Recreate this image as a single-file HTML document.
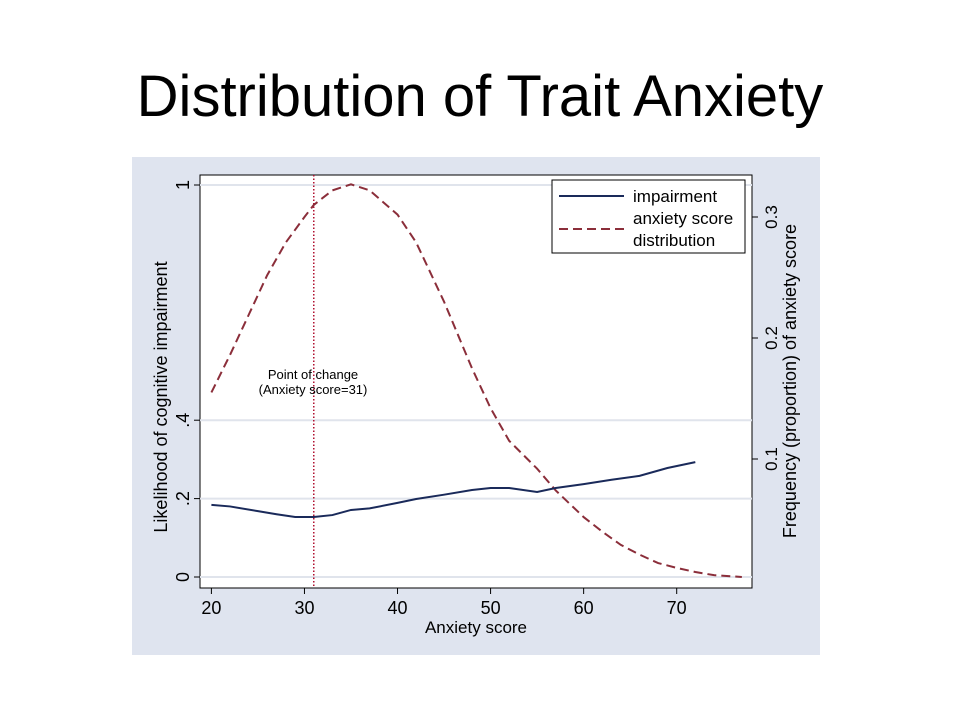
<!DOCTYPE html>
<html><head><meta charset="utf-8"><style>
body{margin:0;background:#fff;width:960px;height:720px;overflow:hidden;font-family:"Liberation Sans",sans-serif}
</style></head><body>
<svg width="960" height="720" font-family="Liberation Sans, sans-serif">
<text x="480" y="116" text-anchor="middle" font-size="58">Distribution of Trait Anxiety</text>
<rect x="132" y="157" width="688" height="498" fill="#dfe4ef"/>
<rect x="200" y="175" width="552" height="413" fill="#fff" stroke="#000" stroke-width="1"/>
<g id="grid"></g><g id="axes"></g><g id="series"></g>
<text x="313" y="379" text-anchor="middle" font-size="13">Point of change</text>
<text x="313" y="394" text-anchor="middle" font-size="13">(Anxiety score=31)</text>
<g>
<rect x="552" y="180" width="193" height="73" fill="#fff" stroke="#000"/>
<line x1="559" y1="196" x2="624" y2="196" stroke="#1a2a5a" stroke-width="2"/>
<text x="633" y="202" font-size="17">impairment</text>
<line x1="559" y1="229" x2="624" y2="229" stroke="#8b2e3a" stroke-width="2" stroke-dasharray="9,5"/>
<text x="633" y="224" font-size="17">anxiety score</text>
<text x="633" y="246" font-size="17">distribution</text>
</g>
<text transform="translate(167,397) rotate(-90)" text-anchor="middle" font-size="18">Likelihood of cognitive impairment</text>
<text transform="translate(796,381) rotate(-90)" text-anchor="middle" font-size="18">Frequency (proportion) of anxiety score</text>
<text x="476" y="633" text-anchor="middle" font-size="17">Anxiety score</text>
</svg>
<script>
const xTicks=[20,30,40,50,60,70];
const yTicks=[0,0.2,0.4,1];
const yTickLabels=["0",".2",".4","1"];
const y2Ticks=[0.1,0.2,0.3];
const y2TickLabels=["0.1","0.2","0.3"];
const impX=[20,22,25,27,29,31,33,35,37,40,42,45,48,50,52,55,57,60,63,66,69,72];
const impY=[.184,.18,.168,.16,.153,.153,.158,.171,.175,.189,.199,.21,.222,.227,.227,.217,.227,.237,.248,.258,.278,.293];
const distX=[20,22,24,26,28,30,31,33,35,37,40,42,45,48,50,52,55,57,60,62,64,66,68,70,72,74,77];
const distY=[.155,.186,.219,.252,.279,.300,.310,.322,.327,.322,.302,.279,.230,.175,.142,.115,.092,.074,.052,.040,.029,.021,.014,.010,.0066,.004,.0025];
const changePoint=31;
const NS="http://www.w3.org/2000/svg";
const X=v=>211.4+(v-20)*9.306, Y=v=>577-v*392, Y2=v=>580-v*1210;
function mk(tag,at,parent){const e=document.createElementNS(NS,tag);for(const k in at)e.setAttribute(k,at[k]);document.getElementById(parent).appendChild(e);return e;}
yTicks.forEach((t,i)=>{
 const g=mk('line',{x1:200,x2:752,y1:Y(t),y2:Y(t),stroke:'#e0e4ec','stroke-width':2},'grid');
 
 
 const tk=mk('line',{x1:194,x2:200,y1:Y(t),y2:Y(t),stroke:'#000'},'axes');
 
 
 const l=mk('text',{transform:`translate(189,${Y(t)}) rotate(-90)`,'text-anchor':'middle','font-size':18},'axes');
 l.textContent=yTickLabels[i];
 
 
});
y2Ticks.forEach((t,i)=>{
 const tk=mk('line',{x1:752,x2:758,y1:Y2(t),y2:Y2(t),stroke:'#000'},'axes');
 
 
 const l=mk('text',{transform:`translate(777,${Y2(t)}) rotate(-90)`,'text-anchor':'middle','font-size':17},'axes');
 l.textContent=y2TickLabels[i];
 
 
});
xTicks.forEach(t=>{
 const tk=mk('line',{x1:X(t),x2:X(t),y1:588,y2:594,stroke:'#000'},'axes');
 
 
 const l=mk('text',{x:X(t),y:614,'text-anchor':'middle','font-size':18},'axes');
 l.textContent=t;
 
 
});
const vl=mk('line',{x1:X(changePoint),x2:X(changePoint),y1:175,y2:588,stroke:'#b01030','stroke-width':1.5,'stroke-dasharray':'1.5,2'},'series');


const d=mk('polyline',{points:distX.map((x,i)=>X(x)+','+Y2(distY[i])).join(' '),fill:'none',stroke:'#8b2e3a','stroke-width':2,'stroke-dasharray':'9,5'},'series');


const p=mk('polyline',{points:impX.map((x,i)=>X(x)+','+Y(impY[i])).join(' '),fill:'none',stroke:'#1a2a5a','stroke-width':2},'series');


</script>
</body></html>
